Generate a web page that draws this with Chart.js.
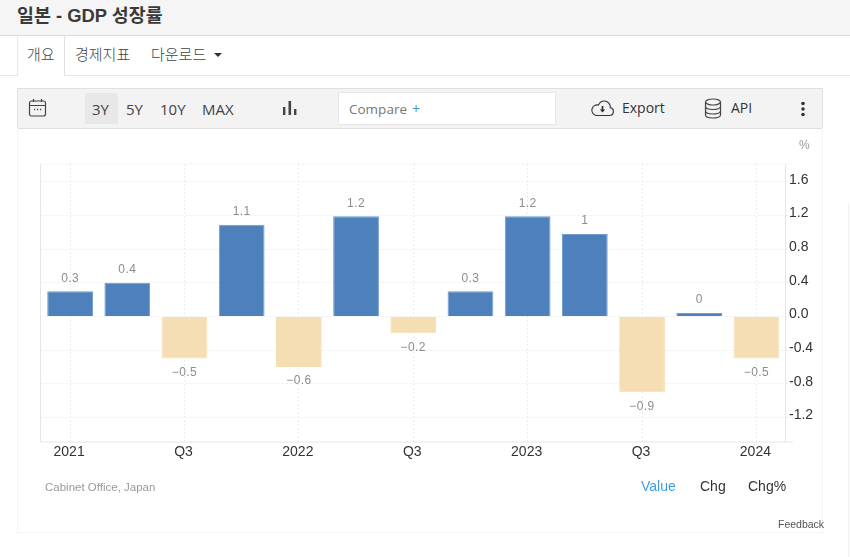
<!DOCTYPE html>
<html lang="ko">
<head>
<meta charset="utf-8">
<title>일본 - GDP 성장률</title>
<script src="https://cdn.jsdelivr.net/npm/chart.js@4"></script>
<style>
  html, body { margin: 0; padding: 0; background: #fff; }
  body { position: relative; width: 850px; height: 557px; overflow: hidden; font-family: "Liberation Sans", "Noto Sans CJK KR", sans-serif; color: #333; }
  .abs { position: absolute; white-space: nowrap; }
  #head { left: 0; top: 0; width: 850px; height: 35px; background: #f5f5f5; border-bottom: 1px solid #dcdcdc; }
  #title { left: 17px; top: 4px; font-size: 18.4px; line-height: 23px; font-weight: bold; color: #3a3a3a; }
  #tabline { left: 0; top: 75px; width: 850px; height: 1px; background: #e4e4e4; }
  #tabActive { left: 17px; top: 36px; width: 46px; height: 40px; background: #fff; border-left: 1px solid #e8e8e8; border-right: 1px solid #e0e0e0; }
  .tab { top: 44px; font-size: 15px; line-height: 20px; color: #444; font-family: "Noto Sans CJK KR", sans-serif; font-weight: 300; }
  #caret { left: 214px; top: 53px; width: 0; height: 0; border-left: 4px solid transparent; border-right: 4px solid transparent; border-top: 4px solid #333; }
  #toolbar { left: 17px; top: 88px; width: 804px; height: 39px; background: #f3f3f3; border: 1px solid #e0e0e0; }
  #active3y { left: 85px; top: 93px; width: 33px; height: 31px; background: #e8e8e8; }
  .range { top: 99px; font-family: "Open Sans", sans-serif; font-size: 15px; line-height: 20px; color: #444; }
  #compareBox { left: 338px; top: 92px; width: 216px; height: 31px; background: #fff; border: 1px solid #e8e8e8; }
  #compare { left: 349px; top: 99px; font-family: "Open Sans", sans-serif; font-size: 13.5px; line-height: 20px; color: #777; }
  #plus { left: 412px; top: 99px; font-family: "Open Sans", sans-serif; font-size: 14px; line-height: 20px; color: #3f8fdc; }
  .tool { top: 98px; font-family: "Open Sans", sans-serif; font-size: 14px; line-height: 20px; color: #333; }
  #panel { left: 17px; top: 128px; width: 806px; height: 405px; border: 1px solid #f5f5f5; border-top: none; box-sizing: border-box; }
  #sideRule { left: 848px; top: 203px; width: 1px; height: 354px; background: #f0f0f0; }
  canvas { position: absolute; left: -1px; top: 0; }
  #unit { left: 799px; top: 138px; font-size: 12px; line-height: 14px; color: #999; }
  #source { left: 45px; top: 480px; font-size: 11.5px; line-height: 14px; color: #999; }
  .mode { top: 478px; font-size: 14px; line-height: 17px; color: #333; }
  #feedback { left: 778px; top: 518px; font-size: 10.5px; line-height: 13px; color: #555; }
</style>
</head>
<body>
<div class="abs" id="head"></div>
<div class="abs" id="title">일본 - GDP 성장률</div>
<div class="abs" id="tabline"></div>
<div class="abs" id="tabActive"></div>
<div class="abs tab" style="left:27px">개요</div>
<div class="abs tab" style="left:75px">경제지표</div>
<div class="abs tab" style="left:151px">다운로드</div>
<div class="abs" id="caret"></div>

<div class="abs" id="toolbar"></div>
<div class="abs" id="active3y"></div>
<svg class="abs" style="left:28px;top:98px" width="20" height="21" viewBox="0 0 20 21" fill="none" stroke="#444" stroke-width="1.2">
  <rect x="1.5" y="3" width="16" height="15" rx="2"/><path d="M1.5 7.5h16M5.5 1v3M13.5 1v3"/>
  <path d="M6 11.5h1.2M9 11.5h1.2M12 11.5h1.2" stroke-width="1.4"/>
</svg>
<div class="abs range" style="left:92px">3Y</div>
<div class="abs range" style="left:126px">5Y</div>
<div class="abs range" style="left:160px">10Y</div>
<div class="abs range" style="left:202px">MAX</div>
<svg class="abs" style="left:283px;top:100px" width="14" height="16" viewBox="0 0 14 16" fill="#444">
  <rect x="0" y="7" width="2.4" height="8"/><rect x="5.5" y="1" width="2.6" height="14"/><rect x="11" y="9" width="2.4" height="6"/>
</svg>
<div class="abs" id="compareBox"></div>
<div class="abs" id="compare">Compare</div>
<div class="abs" id="plus">+</div>
<svg class="abs" style="left:590px;top:99px" width="25" height="18" viewBox="0 0 25 18" fill="none" stroke="#333" stroke-width="1.1">
  <path d="M6 16.5h13.5a4 4 0 0 0 .8-7.9 6.2 6.2 0 0 0-5.5-6.6 6.5 6.5 0 0 0-6.3 4A5.2 5.2 0 0 0 6 16.5z"/>
  <path d="M12.5 7v5" stroke-width="1.8"/><path d="M9.8 10.5h5.4l-2.7 3z" fill="#333" stroke="none"/>
</svg>
<div class="abs tool" style="left:622px">Export</div>
<svg class="abs" style="left:704px;top:98px" width="18" height="21" viewBox="0 0 18 21" fill="none" stroke="#444" stroke-width="1.2">
  <ellipse cx="9" cy="4" rx="7.5" ry="3"/><path d="M1.5 4v13c0 1.7 3.4 3 7.5 3s7.5-1.3 7.5-3V4"/>
  <path d="M1.5 8.5c0 1.7 3.4 3 7.5 3s7.5-1.3 7.5-3M1.5 13c0 1.7 3.4 3 7.5 3s7.5-1.3 7.5-3"/>
</svg>
<div class="abs tool" style="left:731px">API</div>
<svg class="abs" style="left:800px;top:101px" width="6" height="16" viewBox="0 0 6 16" fill="#333">
  <circle cx="3" cy="2.5" r="1.8"/><circle cx="3" cy="8" r="1.8"/><circle cx="3" cy="13.5" r="1.8"/>
</svg>

<div class="abs" id="panel"><canvas id="gdpChart" width="806" height="405"></canvas></div>
<div class="abs" id="sideRule"></div>
<div class="abs" id="unit">%</div>
<div class="abs" id="source">Cabinet Office, Japan</div>
<div class="abs mode" style="left:641px;color:#3f9be8">Value</div>
<div class="abs mode" style="left:700px">Chg</div>
<div class="abs mode" style="left:748px">Chg%</div>
<div class="abs" id="feedback">Feedback</div>

<script>
const quarters = ["2021","Q2","Q3","Q4","2022","Q2","Q3","Q4","2023","Q2","Q3","Q4","2024"];
const growth = [0.3, 0.4, -0.5, 1.09, -0.6, 1.19, -0.2, 0.3, 1.19, 0.98, -0.9, 0.04, -0.5];
const valueLabels = ["0.3","0.4","−0.5","1.1","−0.6","1.2","−0.2","0.3","1.2","1","−0.9","0","−0.5"];
const yTicks = [1.6, 1.2, 0.8, 0.4, 0, -0.4, -0.8, -1.2];

const GRID = "#ececec";
const AXIS = "#e6e6e6";

// value labels and the frame lines the scales don't draw themselves
const extras = {
  id: "extras",
  afterDatasetsDraw(c) {
    const { ctx, chartArea: a, scales } = c;
    ctx.save();
    ctx.strokeStyle = AXIS;
    ctx.lineWidth = 1;
    ctx.beginPath();
    ctx.moveTo(a.left - 1, a.top);
    ctx.lineTo(a.left - 1, a.bottom);
    ctx.moveTo(a.left - 1, a.bottom);
    ctx.lineTo(a.right + 8, a.bottom);
    ctx.stroke();
    ctx.setLineDash([2, 2]);
    ctx.strokeStyle = GRID;
    ctx.beginPath();
    ctx.moveTo(a.left, a.top);
    ctx.lineTo(a.right + 8, a.top);
    ctx.stroke();
    ctx.setLineDash([]);

    ctx.font = "12px 'Liberation Sans'";
    ctx.fillStyle = "#8c8c8c";
    ctx.textAlign = "center";
    ctx.textBaseline = "middle";
    ctx.letterSpacing = "0.4px";
    growth.forEach((v, i) => {
      const x = scales.x.getPixelForValue(i);
      const y = scales.y.getPixelForValue(v);
      ctx.fillText(valueLabels[i], x, v < 0 ? y + 14 : y - 13);
    });
    ctx.restore();
  }
};

new Chart(document.getElementById("gdpChart"), {
  type: "bar",
  data: {
    labels: quarters,
    datasets: [{
      data: growth,
      backgroundColor: growth.map(v => v < 0 ? "#f5deb3" : "#4e80bc"),
      borderColor: growth.map(v => v < 0 ? "#f5deb3" : "#6f9bd0"),
      borderWidth: 1,
      barPercentage: 0.8,
      categoryPercentage: 1
    }]
  },
  options: {
    responsive: false,
    animation: false,
    layout: { padding: { left: 24.5, top: 36, right: 0, bottom: 0 } },
    plugins: { legend: { display: false }, tooltip: { enabled: false } },
    scales: {
      x: {
        afterFit: s => { s.height = 91; },
        border: { display: false, dash: [2, 2] },
        grid: {
          offset: false,
          drawTicks: false,
          color: ctx => ctx.index % 2 === 0 ? GRID : "transparent"
        },
        ticks: {
          autoSkip: false,
          maxRotation: 0,
          padding: 2,
          labelOffset: -1,
          color: "#333",
          font: { family: "Liberation Sans", size: 14 },
          callback: (v, i) => i % 2 === 0 ? quarters[i] : ""
        }
      },
      y: {
        position: "right",
        min: -1.49,
        max: 1.81,
        afterFit: s => { s.width = 38; },
        afterBuildTicks: s => { s.ticks = yTicks.map(value => ({ value })); },
        border: { color: AXIS, dash: [2, 2] },
        grid: { color: GRID, tickLength: 8, tickColor: GRID, tickBorderDash: [2, 2] },
        ticks: {
          padding: -4,
          labelOffset: -2,
          color: "#333",
          font: { family: "Liberation Sans", size: 14 },
          callback: v => Number(v).toFixed(1)
        }
      }
    }
  },
  plugins: [extras]
});
</script>
</body>
</html>
